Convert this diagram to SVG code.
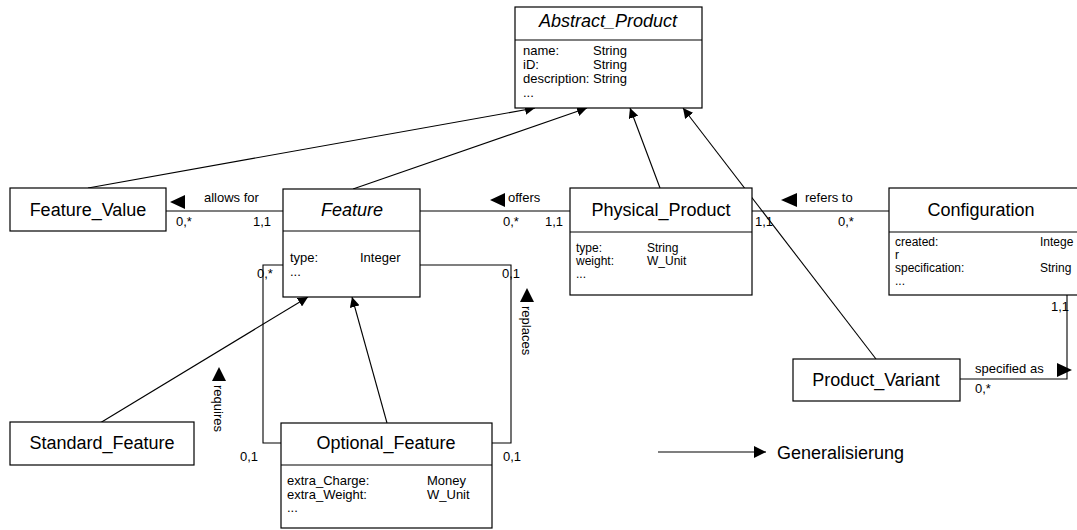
<svg xmlns="http://www.w3.org/2000/svg" width="1077" height="530" viewBox="0 0 1077 530">
  <style>
    .box { fill: #fff; stroke: #000; stroke-width: 1.2; }
    .div { stroke: #000; stroke-width: 1.2; }
    .title { font-family: "Liberation Sans", Arial, sans-serif; font-size: 18px; fill: #000; text-anchor: middle; }
    .it { font-style: italic; }
    .attr { font-family: "Liberation Sans", Arial, sans-serif; font-size: 13px; fill: #000; }
    .attr.tight { font-size: 12px; }
    .lbl { font-family: "Liberation Sans", Arial, sans-serif; font-size: 13px; fill: #000; }
    .edge { fill: none; stroke: #000; stroke-width: 1.1; }
    .tri { fill: #000; }
    .legend { font-family: "Liberation Sans", Arial, sans-serif; font-size: 18px; fill: #000; }
  </style>
  <defs>
    <marker id="gen" viewBox="0 0 10 10" refX="10" refY="5" markerWidth="10" markerHeight="10" markerUnits="userSpaceOnUse" orient="auto">
      <path d="M0,0 L10,5 L0,10 Z" fill="#000"/>
    </marker>
    <marker id="genL" viewBox="0 0 12 12" refX="12" refY="6" markerWidth="12" markerHeight="12" markerUnits="userSpaceOnUse" orient="auto">
      <path d="M0,0 L12,6 L0,12 Z" fill="#000"/>
    </marker>
  </defs>

  <!-- connectors -->
  <g id="connectors">
    <!-- generalisations towards Abstract_Product -->
    <line class="edge" x1="88" y1="188" x2="535" y2="108" marker-end="url(#gen)"/>
    <line class="edge" x1="353" y1="189" x2="587" y2="108" marker-end="url(#gen)"/>
    <line class="edge" x1="660" y1="188" x2="630" y2="108" marker-end="url(#gen)"/>
    <line class="edge" x1="876" y1="359" x2="683" y2="108" marker-end="url(#gen)"/>
    <!-- generalisations towards Feature -->
    <line class="edge" x1="100" y1="423" x2="308" y2="297" marker-end="url(#gen)"/>
    <line class="edge" x1="387" y1="423" x2="352" y2="297" marker-end="url(#gen)"/>

    <!-- allows for -->
    <line class="edge" x1="166" y1="211" x2="283" y2="211"/>
    <path class="tri" d="M170,202 L185,195 L185,209 Z"/>
    <text class="lbl" x="204" y="202">allows for</text>
    <text class="lbl" x="176" y="226">0,*</text>
    <text class="lbl" x="253" y="226">1,1</text>

    <!-- offers -->
    <line class="edge" x1="420" y1="211" x2="570" y2="211"/>
    <path class="tri" d="M490,200 L505,193 L505,207 Z"/>
    <text class="lbl" x="508" y="202">offers</text>
    <text class="lbl" x="503" y="226">0,*</text>
    <text class="lbl" x="545" y="226">1,1</text>

    <!-- refers to -->
    <line class="edge" x1="752" y1="211" x2="889" y2="211"/>
    <path class="tri" d="M781,200 L797,193 L797,207 Z"/>
    <text class="lbl" x="805" y="202">refers to</text>
    <text class="lbl" x="755" y="226">1,1</text>
    <text class="lbl" x="838" y="226">0,*</text>

    <!-- specified as -->
    <polyline class="edge" points="1067,295 1067,379 960,379"/>
    <path class="tri" d="M1072,370 L1057,363 L1057,377 Z"/>
    <text class="lbl" x="975" y="373">specified as</text>
    <text class="lbl" x="1051" y="311">1,1</text>
    <text class="lbl" x="975" y="393">0,*</text>

    <!-- requires -->
    <polyline class="edge" points="283,265 263,265 263,443 281,443"/>
    <path class="tri" d="M219,367 L212,381 L226,381 Z"/>
    <text class="lbl" transform="translate(214,385) rotate(90)">requires</text>
    <text class="lbl" x="257" y="278">0,*</text>
    <text class="lbl" x="240" y="461">0,1</text>

    <!-- replaces -->
    <polyline class="edge" points="420,265 511,265 511,443 492,443"/>
    <path class="tri" d="M527,288 L520,302 L534,302 Z"/>
    <text class="lbl" transform="translate(522,306) rotate(90)">replaces</text>
    <text class="lbl" x="502" y="278">0,1</text>
    <text class="lbl" x="503" y="461">0,1</text>

    <!-- legend -->
    <line class="edge" x1="658" y1="452" x2="766" y2="452" stroke-width="2" marker-end="url(#genL)"/>
    <text class="legend" x="777" y="459">Generalisierung</text>
  </g>

  <g id="abstract-product">
    <rect class="box" x="515" y="7" width="187" height="101"/>
    <line class="div" x1="515" y1="40" x2="702" y2="40"/>
    <text class="title it" x="608" y="27">Abstract_Product</text>
    <text class="attr" x="523" y="55">name:</text>
    <text class="attr" x="593" y="55">String</text>
    <text class="attr" x="523" y="69">iD:</text>
    <text class="attr" x="593" y="69">String</text>
    <text class="attr" x="523" y="83">description:</text>
    <text class="attr" x="593" y="83">String</text>
    <text class="attr" x="523" y="97">...</text>
  </g>

  <g id="feature-value">
    <rect class="box" x="10" y="188" width="156" height="43"/>
    <text class="title" x="88" y="216">Feature_Value</text>
  </g>

  <g id="feature">
    <rect class="box" x="283" y="189" width="137" height="108"/>
    <line class="div" x1="283" y1="231" x2="420" y2="231"/>
    <text class="title it" x="352" y="216">Feature</text>
    <text class="attr" x="290" y="262">type:</text>
    <text class="attr" x="360" y="262">Integer</text>
    <text class="attr" x="290" y="276">...</text>
  </g>

  <g id="physical-product">
    <rect class="box" x="570" y="188" width="182" height="107"/>
    <line class="div" x1="570" y1="232" x2="752" y2="232"/>
    <text class="title" x="661" y="216">Physical_Product</text>
    <text class="attr tight" x="576" y="252">type:</text>
    <text class="attr tight" x="647" y="252">String</text>
    <text class="attr tight" x="576" y="265">weight:</text>
    <text class="attr tight" x="647" y="265">W_Unit</text>
    <text class="attr tight" x="576" y="278">...</text>
  </g>

  <g id="configuration">
    <rect class="box" x="889" y="188" width="200" height="107"/>
    <line class="div" x1="889" y1="232" x2="1089" y2="232"/>
    <text class="title" x="981" y="216">Configuration</text>
    <text class="attr tight" x="895" y="246">created:</text>
    <text class="attr tight" x="1040" y="246">Intege</text>
    <text class="attr tight" x="895" y="259">r</text>
    <text class="attr tight" x="895" y="272">specification:</text>
    <text class="attr tight" x="1040" y="272">String</text>
    <text class="attr tight" x="895" y="285">...</text>
  </g>

  <g id="product-variant">
    <rect class="box" x="793" y="359" width="167" height="42"/>
    <text class="title" x="876" y="386">Product_Variant</text>
  </g>

  <g id="standard-feature">
    <rect class="box" x="10" y="422" width="184" height="43"/>
    <text class="title" x="102" y="449">Standard_Feature</text>
  </g>

  <g id="optional-feature">
    <rect class="box" x="281" y="423" width="211" height="105"/>
    <line class="div" x1="281" y1="465" x2="492" y2="465"/>
    <text class="title" x="386" y="449">Optional_Feature</text>
    <text class="attr" x="287" y="485">extra_Charge:</text>
    <text class="attr" x="427" y="485">Money</text>
    <text class="attr" x="287" y="499">extra_Weight:</text>
    <text class="attr" x="427" y="499">W_Unit</text>
    <text class="attr" x="287" y="512">...</text>
  </g>
</svg>
